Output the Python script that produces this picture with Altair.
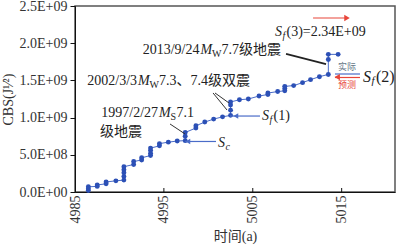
import altair as alt
import pandas as pd

# ---------------- data ----------------
years = [4986.5, 4986.5, 4986.5, 4987.5, 4987.5, 4988.5, 4988.5, 4989.6,
         4990.5, 4990.5, 4990.5, 4990.5, 4990.5, 4991.6, 4991.6, 4992.5, 4992.5,
         4993.5, 4993.5, 4993.5, 4993.5, 4994.5, 4994.5, 4995.5, 4996.5,
         4997.4, 4997.4, 4997.4, 4998.6, 4998.6, 4999.6, 5000.6, 5001.6,
         5002.5, 5002.5, 5002.5, 5002.5, 5003.5, 5004.5, 5005.7, 5006.7, 5006.7,
         5007.8, 5008.6, 5008.6, 5008.6, 5009.6, 5010.6, 5011.5, 5012.5, 5013.5,
         5013.5, 5013.5, 5014.6]
cbs_e9 = [0.02, 0.045, 0.07, 0.075, 0.095, 0.11, 0.135, 0.15,
          0.16, 0.21, 0.26, 0.30, 0.34, 0.37, 0.41, 0.43, 0.46,
          0.49, 0.52, 0.56, 0.59, 0.62, 0.65, 0.67, 0.685,
          0.69, 0.75, 0.80, 0.86, 0.89, 0.94, 0.98, 1.01,
          1.03, 1.10, 1.17, 1.21, 1.24, 1.25, 1.29, 1.31, 1.33,
          1.35, 1.36, 1.39, 1.42, 1.43, 1.47, 1.51, 1.55, 1.58,
          1.78, 1.85, 1.85]
x_ticks = [4985, 4995, 5005, 5015]
y_ticks = [0, 5e8, 1e9, 1.5e9, 2e9, 2.5e9]

SERIF = "Liberation Serif, Noto Sans CJK SC"
BLUE = "#2c50b6"
LBLUE = "#4a6cc8"
RED = "#e8463a"
INK = "#222222"

df = pd.DataFrame({"year": years, "cbs": [v * 1e9 for v in cbs_e9],
                   "i": list(range(len(years)))})

xscale = alt.Scale(domain=[4985, 5021], nice=False, zero=False)
yscale = alt.Scale(domain=[0, 2.5e9], nice=False)
xaxis = alt.Axis(values=x_ticks, labelAngle=270, ticks=False, labelFlush=False,
                 grid=False, title="时间(a)", labelFont=SERIF, labelFontSize=14,
                 labelColor="#333", titleFont=SERIF, titleFontSize=14,
                 titleFontWeight="normal", titleColor="#333", labelPadding=3,
                 titlePadding=6, domainColor="#111", format="d")
yaxis = alt.Axis(values=y_ticks, grid=False, title="CBS(J\u00b9\u2044\u00b2)",
                 labelExpr="replace(format(datum.value, '.1e'), 'e+', 'E+0')",
                 labelFont=SERIF, labelFontSize=14, labelColor="#333",
                 titleFont=SERIF, titleFontSize=14, titleFontWeight="normal",
                 titleColor="#333", tickSize=5, tickColor="#111", labelPadding=3,
                 titlePadding=4, domainColor="#111", labelFlush=False)


def X(f):
    return alt.X(f, type="quantitative", scale=xscale, axis=xaxis)


def Y(f):
    return alt.Y(f, type="quantitative", scale=yscale, axis=yaxis)


line = alt.Chart(df).mark_line(color=LBLUE, strokeWidth=1).encode(
    x=X("year"), y=Y("cbs"), order="i:Q")
pts = alt.Chart(df).mark_circle(color=BLUE, size=24, opacity=1).encode(
    x=X("year"), y=Y("cbs"))

layers = [line, pts]

# inward ticks on the time axis
tick_df = pd.DataFrame({"x": x_ticks[1:]})
layers.append(alt.Chart(tick_df).mark_rule(color="#111", strokeWidth=1).encode(
    x=X("x"), y=alt.value(182), y2=alt.value(186)))


def seg(x1, y1, x2, y2, color, width=1.0):
    d = pd.DataFrame({"x": [x1, x2], "y": [y1, y2], "k": [0, 1]})
    return alt.Chart(d).mark_line(color=color, strokeWidth=width).encode(
        x=X("x"), y=Y("y"), order="k:Q")


def head(x, y, shape, color, size=40):
    d = pd.DataFrame({"x": [x], "y": [y]})
    return alt.Chart(d).mark_point(shape=shape, filled=True, color=color,
                                   size=size, opacity=1).encode(x=X("x"), y=Y("y"))


def txt(x, y, s, dx=0, dy=0, size=14, italic=False, color=INK, align="left"):
    d = pd.DataFrame({"x": [x], "y": [y], "t": [s]})
    kw = dict(align=align, baseline="middle", dx=dx, dy=dy, fontSize=size,
              color=color, font=SERIF)
    if italic:
        kw["fontStyle"] = "italic"
    return alt.Chart(d).mark_text(**kw).encode(x=X("x"), y=Y("y"), text="t:N")


# leader lines
layers += [
    seg(5008.74, 1.855e9, 5013.24, 1.720e9, "#222", 1.8),
    seg(5000.53, 1.331e9, 5002.10, 1.102e9, "#333", 1.0),
    seg(5000.75, 1.331e9, 5002.33, 1.196e9, "#333", 1.0),
    seg(4995.69, 0.914e9, 4997.38, 0.780e9, "#333", 1.0),
]

# S_c, S_f(1), S_f(2) markers
layers += [
    seg(4997.4, 0.679e9, 5000.86, 0.679e9, LBLUE, 1.2),
    head(4997.7, 0.679e9, "triangle-left", LBLUE, 30),
    seg(5002.44, 1.021e9, 5005.81, 1.021e9, LBLUE, 1.2),
    head(5003.1, 1.021e9, "triangle-left", LBLUE, 30),
    seg(5014.25, 1.586e9, 5017.06, 1.586e9, LBLUE, 1.2),
    seg(5014.25, 1.539e9, 5017.06, 1.539e9, RED, 1.2),
    head(5014.5, 1.545e9, "triangle-left", RED, 40),
    seg(5011.78, 2.339e9, 5015.5, 2.339e9, RED, 1.2),
    head(5015.6, 2.339e9, "triangle-right", RED, 40),
]

# annotation texts
layers += [
    txt(4999.0, 1.909e9, "2013/9/24", align="right"),
    txt(4999.0, 1.909e9, "M", dx=1, italic=True),
    txt(4999.0, 1.909e9, "W", dx=12.5, dy=4, size=10),
    txt(4999.0, 1.909e9, "7.7级地震", dx=22),

    txt(4991.98, 1.492e9, "2002/3/3", align="right"),
    txt(4991.98, 1.492e9, "M", dx=1, italic=True),
    txt(4991.98, 1.492e9, "W", dx=12.5, dy=4, size=10),
    txt(4991.98, 1.492e9, "7.3、7.4级双震", dx=22),

    txt(4994.34, 1.062e9, "1997/2/27", align="right"),
    txt(4994.34, 1.062e9, "M", dx=1, italic=True),
    txt(4994.34, 1.062e9, "S", dx=12.5, dy=4, size=10),
    txt(4994.34, 1.062e9, "7.1", dx=18.5),
    txt(4987.81, 0.806e9, "级地震"),

    txt(5001.09, 0.659e9, "S", italic=True),
    txt(5001.09, 0.659e9, "c", dx=7.5, dy=4, size=10, italic=True),

    txt(5006.04, 1.021e9, "S", italic=True),
    txt(5006.04, 1.021e9, "f", dx=7.5, dy=4, size=10, italic=True),
    txt(5006.04, 1.021e9, "(1)", dx=11.5),

    txt(5017.4, 1.546e9, "S", italic=True, size=16),
    txt(5017.4, 1.546e9, "f", dx=8.5, dy=4, size=11, italic=True),
    txt(5017.4, 1.546e9, "(2)", dx=13, size=16),

    txt(5007.5, 2.15e9, "S", italic=True),
    txt(5007.5, 2.15e9, "f", dx=7.5, dy=4, size=10, italic=True),
    txt(5007.5, 2.15e9, "(3)=2.34E+09", dx=11.5),

    txt(5015.6, 1.68e9, "实际", size=9, color="#667788", align="center"),
    txt(5015.6, 1.438e9, "预测", size=9, color=RED, align="center"),
]

chart = alt.layer(*layers).properties(
    width=320, height=186,
    autosize=alt.AutoSizeParams(type="none"),
    padding={"left": 75, "top": 6, "right": 9, "bottom": 56},
    background="white",
).configure_view(stroke="#555555", strokeWidth=1.5)

chart.save("out.html", embed_options={"renderer": "svg", "actions": False})
